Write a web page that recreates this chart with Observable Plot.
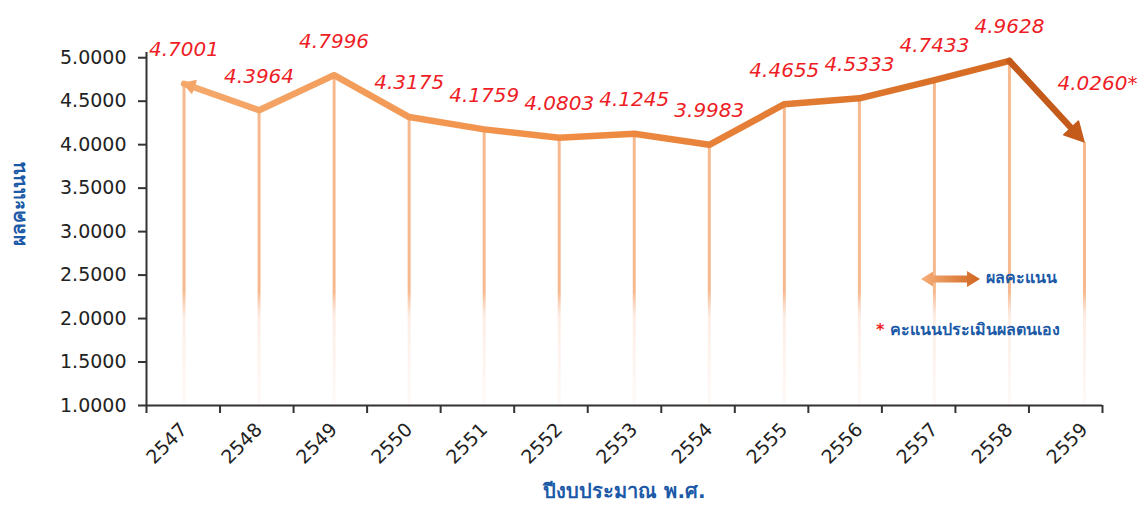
<!DOCTYPE html>
<html><head><meta charset="utf-8">
<script src="https://cdn.jsdelivr.net/npm/d3@7"></script>
<script src="https://cdn.jsdelivr.net/npm/@observablehq/plot@0.6"></script>
<style>
body{margin:0;background:#fff;}
#wrap{position:relative;width:1143px;height:512px;font-family:"DejaVu Sans",sans-serif;}
.leg{position:absolute;color:#1c5aa8;font-weight:bold;font-size:16px;white-space:nowrap;line-height:20px;}
</style></head><body><div id="wrap"></div>
<script>
const years = [2547, 2548, 2549, 2550, 2551, 2552, 2553, 2554, 2555, 2556, 2557, 2558, 2559];
const scores = [4.7001, 4.3964, 4.7996, 4.3175, 4.1759, 4.0803, 4.1245, 3.9983, 4.4655, 4.5333, 4.7433, 4.9628, 4.0260];
const selfAssessed = [false, false, false, false, false, false, false, false, false, false, false, false, true];
const yTicks = [1, 1.5, 2, 2.5, 3, 3.5, 4, 4.5, 5];
const xTitle = "ปีงบประมาณ พ.ศ.";
const yTitle = "ผลคะแนน";
const legendLine = "ผลคะแนน";
const legendNote = "คะแนนประเมินผลตนเอง";

const data = years.map((year, i) => ({year, score: scores[i], self: selfAssessed[i]}));
const xDomain = [2546.5, 2559.24];
const boundaries = d3.range(14).map(i => xDomain[0] + i * (xDomain[1] - xDomain[0]) / 13);
const main = data.filter(d => !d.self);
const lastSeg = [{a: data[data.length - 2], b: data[data.length - 1]}];

const defs = () => {
  const g = document.createElementNS("http://www.w3.org/2000/svg", "defs");
  g.innerHTML = `
  <linearGradient id="lineGrad" gradientUnits="userSpaceOnUse" x1="0%" x2="100%" y1="0" y2="0">
    <stop offset="0.15" stop-color="#f5aa6e"/>
    <stop offset="0.5" stop-color="#f08d44"/>
    <stop offset="0.9" stop-color="#d46921"/>
  </linearGradient>
  <linearGradient id="dropGrad" gradientUnits="userSpaceOnUse" x1="0" x2="0" y1="0%" y2="100%">
    <stop offset="0" stop-color="#f6b98f" stop-opacity="1"/>
    <stop offset="0.57" stop-color="#f6b98f" stop-opacity="1"/>
    <stop offset="0.62" stop-color="#f8cdb6" stop-opacity="0.35"/>
    <stop offset="0.79" stop-color="#fbe2d6" stop-opacity="0.2"/>
  </linearGradient>`;
  return g;
};

// arrowheads drawn through the plot's scales
function heads(index, scales) {
  const ns = "http://www.w3.org/2000/svg";
  const g = document.createElementNS(ns, "g");
  const tri = (from, to, len, half, fill) => {
    const x0 = scales.x(from.year), y0 = scales.y(from.score);
    const x1 = scales.x(to.year), y1 = scales.y(to.score);
    const dx = x1 - x0, dy = y1 - y0, L = Math.hypot(dx, dy);
    const ux = dx / L, uy = dy / L;
    const bx = x1 - ux * len, by = y1 - uy * len;
    const p = document.createElementNS(ns, "path");
    p.setAttribute("d", `M${x1},${y1}L${bx - uy * half},${by + ux * half}L${bx + uy * half},${by - ux * half}Z`);
    p.setAttribute("fill", fill);
    p.setAttribute("stroke", fill);
    p.setAttribute("stroke-width", 1.5);
    p.setAttribute("stroke-linejoin", "round");
    g.appendChild(p);
  };
  tri(data[1], data[0], 11, 6.5, "#f4a568");
  tri(data[data.length - 2], data[data.length - 1], 19, 10, "#c45b1b");
  return g;
}

const red = "#ee1d25";
const blue = "#1c5aa8";
const font = "DejaVu Sans, sans-serif";

const chart = Plot.plot({
  width: 1143,
  height: 512,
  marginLeft: 146,
  marginRight: 41,
  marginTop: 52,
  marginBottom: 107,
  style: {fontFamily: font, overflow: "visible", background: "transparent"},
  x: {type: "linear", domain: xDomain, axis: null},
  y: {domain: [1, 5.06], axis: null},
  marks: [
    defs,
    Plot.ruleX(data, {x: "year", y1: 1, y2: "score", stroke: "url(#dropGrad)", strokeWidth: 3}),
    Plot.line(main, {x: "year", y: "score", stroke: "url(#lineGrad)", strokeWidth: 6.5, strokeLinejoin: "round"}),
    Plot.arrow(lastSeg, {x1: d => d.a.year, y1: d => d.a.score, x2: d => d.b.year, y2: d => d.b.score, stroke: "#c45b1b", strokeWidth: 6.5, headLength: 0, insetEnd: 14}),
    heads,
    Plot.ruleY([1], {stroke: "#333", strokeWidth: 2}),
    Plot.ruleX([xDomain[0]], {stroke: "#333", strokeWidth: 2}),
    Plot.axisY(yTicks, {tickSize: 8, tickPadding: 12, tickFormat: d3.format(".4f"), fontSize: 19, fill: "#222", stroke: "#333", strokeWidth: 2, label: null}),
    Plot.axisX(boundaries, {tickSize: 8, tickFormat: () => "", stroke: "#333", strokeWidth: 2, label: null}),
    Plot.axisX(years, {tickSize: 0, tickPadding: 21, tickRotate: -45, tickFormat: d => String(d), fontSize: 19, fill: "#222", label: null}),
    Plot.text(data, {filter: d => !d.self, x: "year", y: "score", text: d => d.score.toFixed(4), dy: -34, fill: red, fontStyle: "italic", fontSize: 20}),
    Plot.text(data, {filter: d => d.self, x: "year", y: "score", text: d => d.score.toFixed(4) + "*", dy: -59, dx: 13, fill: red, fontStyle: "italic", fontSize: 20}),
    Plot.text([yTitle], {text: d => d, frameAnchor: "left", rotate: -90, dx: -128, dy: 17, fill: blue, fontWeight: "bold", fontSize: 19}),
    Plot.text([xTitle], {text: d => d, frameAnchor: "bottom", dy: 92, fill: blue, fontWeight: "bold", fontSize: 20})
  ]
});

const wrap = document.getElementById("wrap");
wrap.appendChild(chart);

const leg1 = document.createElement("div");
leg1.className = "leg";
leg1.style.left = "920px";
leg1.style.top = "268px";
leg1.innerHTML = `<svg width="62" height="20" style="vertical-align:middle;margin-right:4px">
<defs><linearGradient id="legGrad" x1="0" x2="1" y1="0" y2="0"><stop offset="0" stop-color="#f6b07a"/><stop offset="1" stop-color="#d0651f"/></linearGradient></defs>
<path d="M1,10 L13,2.5 L13,6.5 L47,6.5 L47,2 L60,10 L47,18 L47,13.5 L13,13.5 L13,17.5 Z" fill="url(#legGrad)"/>
</svg><span>${legendLine}</span>`;
wrap.appendChild(leg1);

const leg2 = document.createElement("div");
leg2.className = "leg";
leg2.style.left = "876px";
leg2.style.top = "320px";
leg2.innerHTML = `<span style="color:${red};margin-right:6px">*</span><span>${legendNote}</span>`;
wrap.appendChild(leg2);
</script>
</body></html>
